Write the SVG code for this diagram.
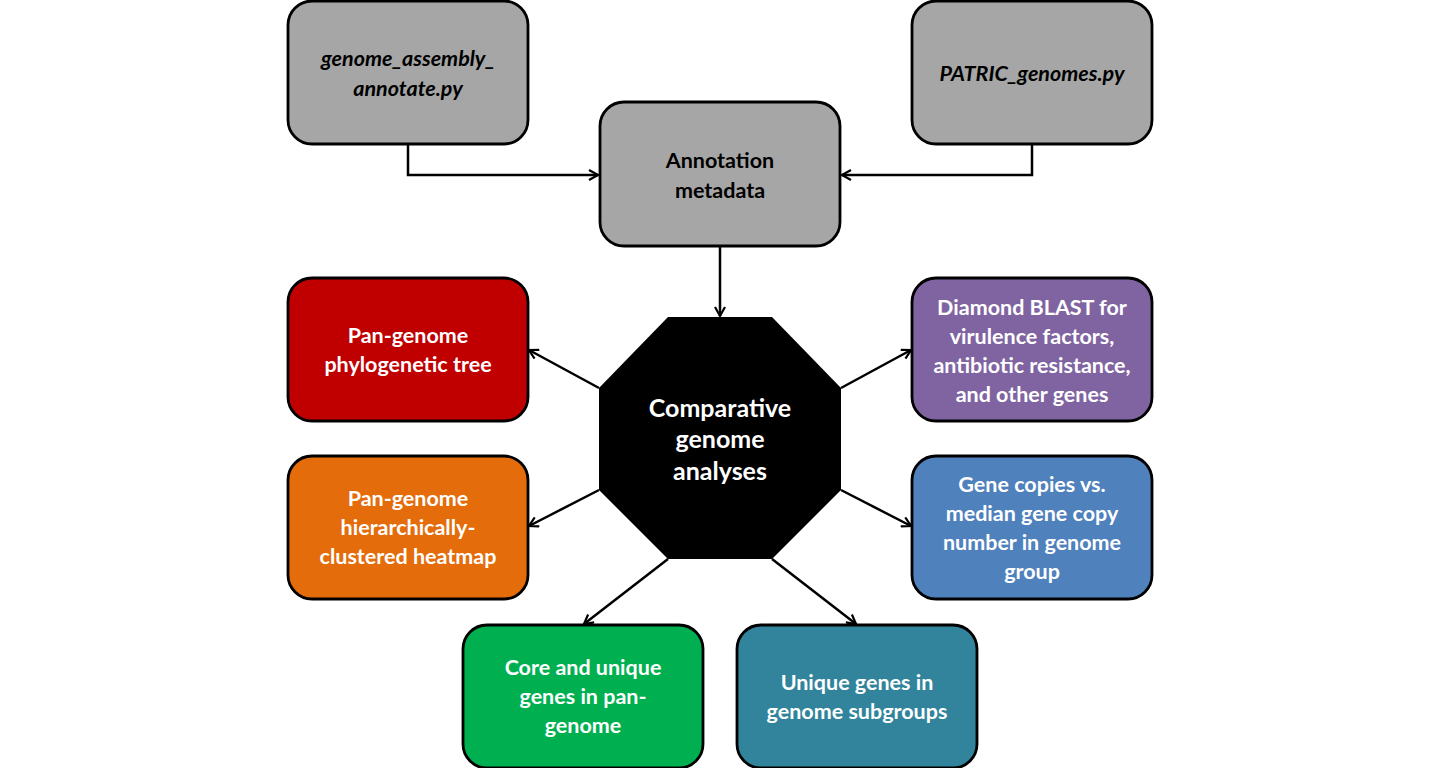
<svg xmlns="http://www.w3.org/2000/svg" width="1440" height="768" viewBox="0 0 1440 768">
<style>
.box{stroke:#000;stroke-width:2.8}
.t{font-family:Lato,"Liberation Sans",sans-serif;font-weight:bold;font-size:21.5px;text-anchor:middle;dominant-baseline:central}
.w{fill:#fff}
.k{fill:#000}
.i{font-style:italic}
.big{font-size:25px}
.c{stroke:#000;stroke-width:2.5;fill:none;marker-end:url(#ah)}
</style>
<defs>
<marker id="ah" viewBox="0 0 12 12" refX="11" refY="6" markerWidth="12" markerHeight="12" markerUnits="userSpaceOnUse" orient="auto">
<polyline points="2,1 11,6 2,11" fill="none" stroke="#000" stroke-width="2.2"/>
</marker>
</defs>
<rect width="1440" height="768" fill="#fff"/>
<g id="connectors">
<polyline class="c" points="408,144 408,175 598,175"/>
<polyline class="c" points="1032,144 1032,175 842,175"/>
<line class="c" x1="720" y1="246" x2="720" y2="316"/>
<line class="c" x1="599" y1="388" x2="529" y2="350"/>
<line class="c" x1="841" y1="388" x2="911" y2="350"/>
<line class="c" x1="599" y1="490" x2="529" y2="526"/>
<line class="c" x1="841" y1="490" x2="911" y2="526"/>
<line class="c" x1="668" y1="559" x2="584" y2="624"/>
<line class="c" x1="772" y1="559" x2="856" y2="624"/>
</g>
<g id="genome_assembly">
<rect class="box" x="288" y="1" width="240" height="143" rx="24" fill="#A6A6A6"/>
<text class="t k i" x="408" y="58">genome_assembly_</text>
<text class="t k i" x="408" y="88">annotate.py</text>
</g>
<g id="patric">
<rect class="box" x="912" y="1" width="240" height="143" rx="24" fill="#A6A6A6"/>
<text class="t k i" x="1032" y="73">PATRIC_genomes.py</text>
</g>
<g id="annotation">
<rect class="box" x="600" y="102" width="240" height="144" rx="24" fill="#A6A6A6"/>
<text class="t k" x="720" y="160">Annotation</text>
<text class="t k" x="720" y="190">metadata</text>
</g>
<g id="comparative">
<polygon points="668,317 772,317 841,388 841,490 772,559 668,559 599,490 599,388" fill="#000"/>
<text class="t w big" x="720" y="407">Comparative</text>
<text class="t w big" x="720" y="438">genome</text>
<text class="t w big" x="720" y="470">analyses</text>
</g>
<g id="phylo">
<rect class="box" x="288" y="278" width="240" height="143" rx="24" fill="#C00000"/>
<text class="t w" x="408" y="335">Pan-genome</text>
<text class="t w" x="408" y="364">phylogenetic tree</text>
</g>
<g id="heatmap">
<rect class="box" x="288" y="456" width="240" height="143" rx="24" fill="#E46C0A"/>
<text class="t w" x="408" y="498">Pan-genome</text>
<text class="t w" x="408" y="527">hierarchically-</text>
<text class="t w" x="408" y="556">clustered heatmap</text>
</g>
<g id="diamond">
<rect class="box" x="912" y="278" width="240" height="143" rx="24" fill="#8064A2"/>
<text class="t w" x="1032" y="307">Diamond BLAST for</text>
<text class="t w" x="1032" y="336">virulence factors,</text>
<text class="t w" x="1032" y="365">antibiotic resistance,</text>
<text class="t w" x="1032" y="394">and other genes</text>
</g>
<g id="copies">
<rect class="box" x="912" y="456" width="240" height="143" rx="24" fill="#4F81BD"/>
<text class="t w" x="1032" y="484">Gene copies vs.</text>
<text class="t w" x="1032" y="513">median gene copy</text>
<text class="t w" x="1032" y="542">number in genome</text>
<text class="t w" x="1032" y="571">group</text>
</g>
<g id="core">
<rect class="box" x="463" y="625" width="240" height="143" rx="24" fill="#00B050"/>
<text class="t w" x="583" y="667">Core and unique</text>
<text class="t w" x="583" y="696">genes in pan-</text>
<text class="t w" x="583" y="725">genome</text>
</g>
<g id="subgroups">
<rect class="box" x="737" y="625" width="240" height="143" rx="24" fill="#31849B"/>
<text class="t w" x="857" y="682">Unique genes in</text>
<text class="t w" x="857" y="711">genome subgroups</text>
</g>
</svg>
